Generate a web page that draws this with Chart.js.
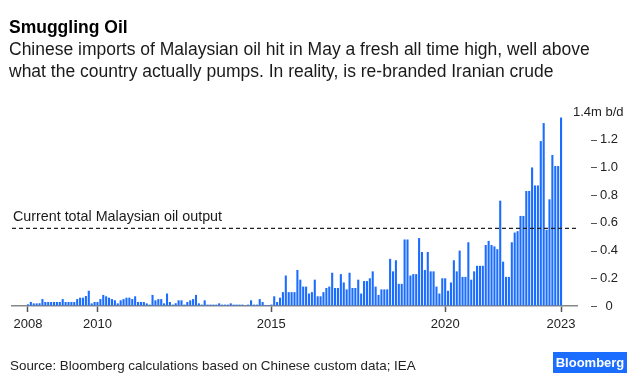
<!DOCTYPE html>
<html>
<head>
<meta charset="utf-8">
<script src="https://cdn.jsdelivr.net/npm/chart.js@4.4.0/dist/chart.umd.min.js"></script>
<style>
  html, body { margin: 0; padding: 0; background: #fff; }
</style>
</head>
<body>
<canvas id="chart" width="640" height="386"></canvas>
<script>
// Chinese imports of Malaysian crude, m b/d, monthly Jan 2008 .. May 2023
const imports2008 = [0.012, 0.029, 0.019, 0.019, 0.02, 0.05, 0.029, 0.029, 0.029, 0.029, 0.029, 0.029];
const imports2009 = [0.05, 0.029, 0.029, 0.029, 0.029, 0.05, 0.06, 0.06, 0.072, 0.11, 0.019, 0.029];
const imports2010 = [0.029, 0.05, 0.08, 0.07, 0.06, 0.05, 0.041, 0.019, 0.041, 0.05, 0.06, 0.06];
const imports2011 = [0.05, 0.07, 0.029, 0.029, 0.029, 0.019, 0.01, 0.08, 0.041, 0.05, 0.05, 0.019];
const imports2012 = [0.09, 0.029, 0.01, 0.02, 0.041, 0.041, 0.01, 0.029, 0.041, 0.05, 0.08, 0.019];
const imports2013 = [0.01, 0.041, 0.01, 0.01, 0.01, 0.01, 0.019, 0.01, 0.01, 0.01, 0.019, 0.01];
const imports2014 = [0.01, 0.01, 0.01, 0.005, 0.01, 0.041, 0.01, 0.01, 0.05, 0.029, 0.007, 0.007];
const imports2015 = [0.01, 0.07, 0.029, 0.06, 0.10, 0.22, 0.10, 0.10, 0.10, 0.26, 0.19, 0.14];
const imports2016 = [0.14, 0.09, 0.10, 0.19, 0.07, 0.07, 0.10, 0.13, 0.14, 0.24, 0.13, 0.13];
const imports2017 = [0.23, 0.17, 0.12, 0.24, 0.13, 0.13, 0.19, 0.09, 0.18, 0.18, 0.20, 0.25];
const imports2018 = [0.14, 0.08, 0.12, 0.12, 0.12, 0.34, 0.25, 0.33, 0.16, 0.16, 0.48, 0.48];
const imports2019 = [0.22, 0.23, 0.23, 0.49, 0.39, 0.26, 0.39, 0.25, 0.25, 0.14, 0.09, 0.20];
const imports2020 = [0.20, 0.11, 0.17, 0.33, 0.25, 0.40, 0.21, 0.21, 0.46, 0.19, 0.25, 0.29];
const imports2021 = [0.29, 0.29, 0.44, 0.47, 0.44, 0.43, 0.41, 0.76, 0.32, 0.21, 0.21, 0.46];
const imports2022 = [0.53, 0.54, 0.65, 0.65, 0.83, 0.83, 1.00, 0.87, 0.87, 1.19, 1.32, 0.55];
const imports2023 = [0.77, 1.09, 1.01, 1.01, 1.36];

const OIL_OUTPUT = 0.56; // current total Malaysian oil output

const yearTicks = [0, 24, 84, 144, 184];   // month index from Jan 2008
const yearLabels = ['2008', '2010', '2015', '2020', '2023'];
const yTicks = [0, 0.2, 0.4, 0.6, 0.8, 1.0, 1.2];

const TITLE = 'Smuggling Oil';
const SUBTITLE = [
  'Chinese imports of Malaysian oil hit in May a fresh all time high, well above',
  'what the country actually pumps. In reality, is re-branded Iranian crude'
];
const OUTPUT_LABEL = 'Current total Malaysian oil output';
const UNIT_LABEL = '1.4m b/d';
const SOURCE = 'Source: Bloomberg calculations based on Chinese custom data; IEA';

const FONT = '"Liberation Sans", Arial, Helvetica, sans-serif';
const BLUE = '#1b6dff';

let imports = [].concat(imports2008, imports2009, imports2010, imports2011, imports2012,
  imports2013, imports2014, imports2015, imports2016, imports2017, imports2018,
  imports2019, imports2020, imports2021, imports2022, imports2023);
let barPoints = imports.map((v, i) => ({x: i, y: v}));

const xMin = -5.5, xMax = imports.length - 1 + 5.5;

const textPlugin = {
  id: 'bbgText',
  afterDraw(chart) {
    const ctx = chart.ctx;
    const ys = chart.scales.y;
    ctx.save();
    ctx.textAlign = 'left';
    ctx.textBaseline = 'alphabetic';
    ctx.fillStyle = '#000';
    ctx.font = 'bold 17.5px ' + FONT;
    ctx.fillText(TITLE, 9, 33);
    ctx.font = '17.5px ' + FONT;
    ctx.fillStyle = '#1a1a1a';
    SUBTITLE.forEach((line, i) => ctx.fillText(line, 9, 55 + i * 22));

    ctx.font = '14.3px ' + FONT;
    ctx.fillStyle = '#1a1a1a';
    ctx.fillText(OUTPUT_LABEL, 13, ys.getPixelForValue(OIL_OUTPUT) - 7);

    // little dashes in front of the y labels
    ctx.strokeStyle = '#555';
    ctx.lineWidth = 1;
    yTicks.forEach(v => {
      const py = Math.round(ys.getPixelForValue(v)) + 0.5;
      ctx.beginPath();
      ctx.moveTo(591, py);
      ctx.lineTo(597, py);
      ctx.stroke();
    });

    ctx.font = '13px ' + FONT;
    ctx.fillStyle = '#222';
    ctx.textBaseline = 'middle';
    ctx.fillText(UNIT_LABEL, 573, ys.getPixelForValue(1.4));

    ctx.textBaseline = 'alphabetic';
    ctx.font = '13.4px ' + FONT;
    ctx.fillText(SOURCE, 10, 370);

    // logo
    ctx.fillStyle = BLUE;
    ctx.fillRect(553, 352, 74, 21);
    ctx.fillStyle = '#fff';
    ctx.font = 'bold 13px ' + FONT;
    ctx.textAlign = 'center';
    ctx.textBaseline = 'middle';
    ctx.fillText('Bloomberg', 590, 363);
    ctx.restore();
  }
};

const ctx = document.getElementById('chart');
new Chart(ctx, {
  type: 'bar',
  data: {
    datasets: [
      {
        type: 'line',
        data: [{x: xMin, y: OIL_OUTPUT}, {x: xMax, y: OIL_OUTPUT}],
        borderColor: '#222',
        borderWidth: 1.3,
        borderDash: [4, 3],
        pointRadius: 0,
        order: 0
      },
      {
        data: barPoints,
        backgroundColor: BLUE,
        categoryPercentage: 1,
        barPercentage: 0.72,
        order: 1
      }
    ]
  },
  options: {
    responsive: false,
    devicePixelRatio: 1,
    animation: false,
    layout: { padding: { top: 112, left: 12, right: 0, bottom: 0 } },
    plugins: { legend: { display: false }, tooltip: { enabled: false } },
    scales: {
      x: {
        type: 'linear',
        min: xMin,
        max: xMax,
        offset: false,
        afterBuildTicks: s => { s.ticks = yearTicks.map(v => ({value: v})); },
        afterFit: s => { s.height = 80; },
        ticks: {
          autoSkip: false,
          maxRotation: 0,
          padding: 5,
          color: '#222',
          font: { family: FONT, size: 13 },
          callback: v => yearLabels[yearTicks.indexOf(v)]
        },
        grid: {
          offset: false,
          drawOnChartArea: false,
          drawTicks: true,
          tickLength: 6,
          tickColor: '#555',
          tickWidth: 1.5
        },
        border: { display: true, color: '#888', width: 1.5 }
      },
      y: {
        position: 'right',
        min: 0,
        max: 1.4,
        afterBuildTicks: s => { s.ticks = yTicks.map(v => ({value: v})); },
        afterFit: s => { s.width = 63; },
        ticks: {
          crossAlign: 'center',
          padding: 23,
          color: '#222',
          font: { family: FONT, size: 13 },
          callback: v => v === 0 ? '0' : v.toFixed(1)
        },
        grid: { drawOnChartArea: false, drawTicks: false },
        border: { display: false }
      }
    }
  },
  plugins: [textPlugin]
});
</script>
</body>
</html>
